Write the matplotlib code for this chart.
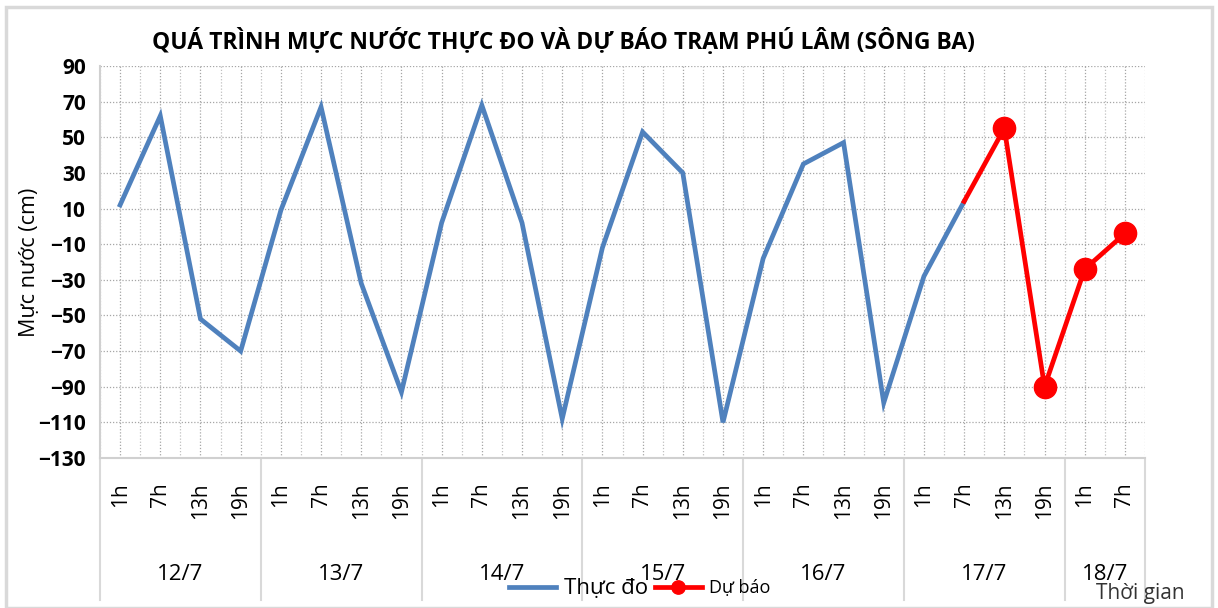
import matplotlib
matplotlib.use('Agg')
import matplotlib.pyplot as plt
from matplotlib.lines import Line2D
from matplotlib.patches import Rectangle
import matplotlib.transforms as mtransforms
from matplotlib.ticker import FixedLocator

plt.rcParams['font.family'] = ['Open Sans', 'DejaVu Sans']

# data
days = ['12/7', '13/7', '14/7', '15/7', '16/7', '17/7', '18/7']
hours = ['1h', '7h', '13h', '19h']
n_per_day = [4, 4, 4, 4, 4, 4, 2]

thuc_do = [12, 62, -52, -70,
           9, 67, -32, -93,
           2, 68, 2, -108,
           -12, 53, 30, -110,
           -18, 35, 47, -99,
           -28, 14]
du_bao = [55, -90, -24, -4]

title = 'QUÁ TRÌNH MỰC NƯỚC THỰC ĐO VÀ DỰ BÁO TRẠM PHÚ LÂM (SÔNG BA)'

hour_labels = []
for n in n_per_day:
    hour_labels += hours[:n]
n_cat = len(hour_labels)

W, H = 1218, 608
fig = plt.figure(figsize=(W / 100, H / 100), dpi=100)
fig.patch.set_facecolor('white')

# outer chart frame
fig.add_artist(Rectangle((6 / W, 0), (W - 12) / W, (H - 7) / H,
                         transform=fig.transFigure, fill=False,
                         edgecolor='#d9d9d9', linewidth=2.5))

left, right, top, bottom = 100, 1145, 66, 458
ax = fig.add_axes([left / W, 1 - bottom / H, (right - left) / W, (bottom - top) / H])

x_obs = list(range(len(thuc_do)))
x_fc = list(range(len(thuc_do) - 1, n_cat))
y_fc = [thuc_do[-1]] + du_bao

ax.plot(x_obs, thuc_do, color='#4f81bd', linewidth=3.4, solid_joinstyle='miter',
        label='Thực đo', zorder=3)
ax.plot(x_fc, y_fc, color='#ff0000', linewidth=3.4, marker='o', markersize=16,
        markevery=list(range(1, len(y_fc))), label='Dự báo', zorder=4)

ax.set_xlim(-0.5, n_cat - 0.5)
ax.set_ylim(-130, 90)
ax.set_yticks(range(-130, 91, 20))
ax.xaxis.set_major_locator(FixedLocator(range(n_cat)))
ax.xaxis.set_minor_locator(FixedLocator([i - 0.5 for i in range(n_cat + 1)]))
ax.tick_params(axis='x', which='both', length=0, labelbottom=False)
ax.tick_params(axis='y', length=0, pad=10, labelsize=15)
for t in ax.get_yticklabels():
    t.set_fontweight('bold')

ax.grid(True, which='major', axis='both', color='#a6a6a6', linestyle=(0, (1, 1.5)), linewidth=0.9)
ax.grid(True, which='minor', axis='x', color='#c0c0c0', linestyle=(0, (1, 1.5)), linewidth=0.9)
ax.set_axisbelow(True)
for s in ['top', 'right']:
    ax.spines[s].set_visible(False)
for s in ['left', 'bottom']:
    ax.spines[s].set_color('#d0d0d0')
    ax.spines[s].set_linewidth(1.5)

ax.set_ylabel('Mực nước (cm)', fontsize=15.5)
ax.yaxis.set_label_coords(-0.057, 0.5)

# two-level category axis
trans = mtransforms.blended_transform_factory(ax.transData, ax.transAxes)
sep_bottom = -(600 - bottom) / (bottom - top)
for i, lab in enumerate(hour_labels):
    ax.text(i, -(482 - bottom) / (bottom - top), lab, transform=trans, rotation=90,
            ha='center', va='top', fontsize=15)
start = 0
for d, n in zip(days, n_per_day):
    ax.text(start + (n - 1) / 2, -(575 - bottom) / (bottom - top), d, transform=trans,
            ha='center', va='center', fontsize=16)
    ax.add_line(Line2D([start - 0.5, start - 0.5], [0, sep_bottom], transform=trans,
                       color='#d9d9d9', linewidth=1.5, clip_on=False))
    start += n
ax.add_line(Line2D([start - 0.5, start - 0.5], [0, sep_bottom], transform=trans,
                   color='#d9d9d9', linewidth=1.5, clip_on=False))

fig.text(563 / W, 1 - 42 / H, title, ha='center', va='center', fontsize=16.5,
         fontweight='bold')

leg = fig.legend(loc='center', bbox_to_anchor=(640 / W, 1 - 588 / H), ncol=2,
                 frameon=False, fontsize=13, handlelength=2.6, columnspacing=0.4,
                 handletextpad=0.4, borderaxespad=0, markerscale=0.6)
leg.get_texts()[0].set_fontsize(16)

fig.text(1140 / W, 1 - 594 / H, 'Thời gian', ha='center', va='center', fontsize=15,
         color='#333333')

fig.savefig('out.png', dpi=100)
